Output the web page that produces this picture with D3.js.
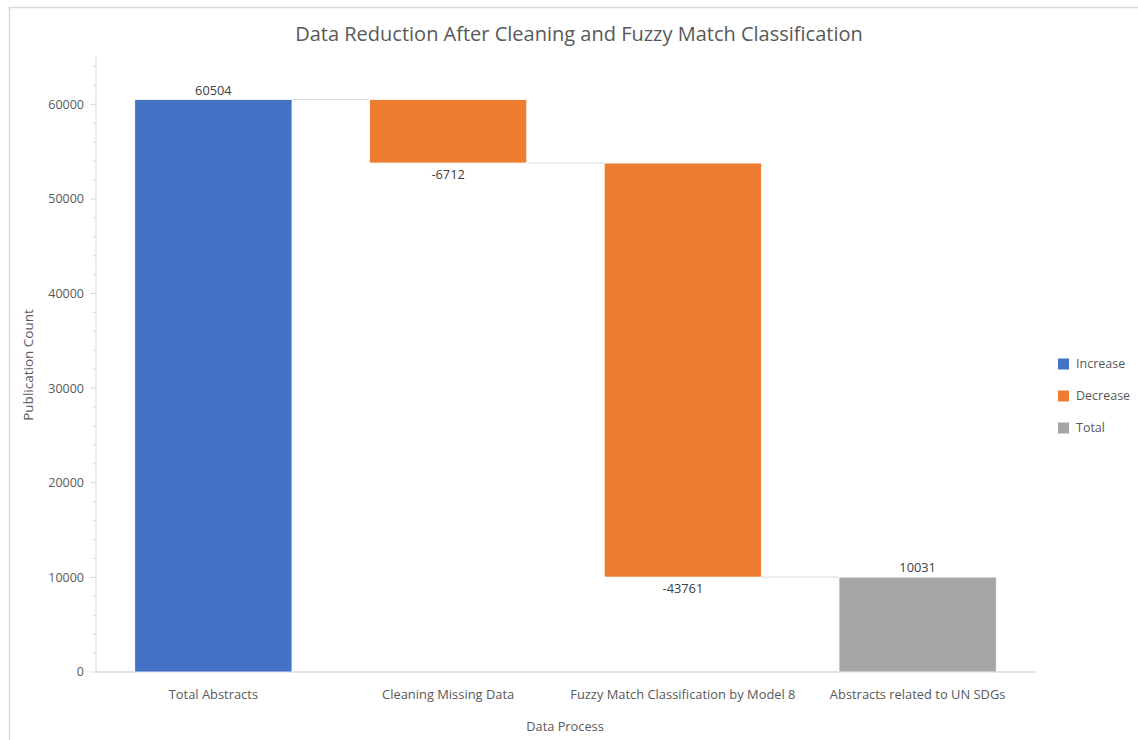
<!DOCTYPE html>
<html>
<head>
<meta charset="utf-8">
<script src="https://cdn.jsdelivr.net/npm/d3@7"></script>
<style>
  html, body { margin: 0; padding: 0; background: #fff; }
  svg { display: block; font-family: "Open Sans", "Noto Sans", sans-serif; }
</style>
</head>
<body>
<svg id="chart" width="1138" height="740"></svg>
<script>
// Waterfall steps of the abstract-filtering pipeline
const categories = [
  "Total Abstracts",
  "Cleaning Missing Data",
  "Fuzzy Match Classification by Model 8",
  "Abstracts related to UN SDGs"
];
const stepValues = [60504, -6712, -43761, 10031];
const stepKinds = ["Increase", "Decrease", "Decrease", "Total"];
const legendLabels = ["Increase", "Decrease", "Total"];
const yTicks = [0, 10000, 20000, 30000, 40000, 50000, 60000];

const colors = { Increase: "#4472C4", Decrease: "#ED7D31", Total: "#A5A5A5" };
const textColor = "#595959";

const svg = d3.select("#chart");

// outer chart frame
svg.append("rect")
  .attr("x", 9.5).attr("y", 7.5)
  .attr("width", 1200).attr("height", 800)
  .attr("fill", "none").attr("stroke", "#d9d9d9").attr("stroke-width", 1.5);

const plot = { left: 96, right: 1035, top: 57, bottom: 672 };

const x = d3.scaleBand()
  .domain(categories)
  .range([plot.left, plot.right])
  .paddingInner(0.33)
  .paddingOuter(0.165);

const y = d3.scaleLinear()
  .domain([0, 65000])
  .range([plot.bottom, plot.top]);

// compute running start/end for each step
let running = 0;
const steps = categories.map((c, i) => {
  const v = stepValues[i];
  const kind = stepKinds[i];
  let start, end;
  if (kind === "Total") { start = 0; end = v; running = v; }
  else { start = running; end = running + v; running = end; }
  return { cat: c, value: v, kind, start, end };
});

// y axis line with major and minor ticks
const yAxis = svg.append("g");
yAxis.append("line")
  .attr("x1", plot.left).attr("x2", plot.left)
  .attr("y1", plot.top).attr("y2", plot.bottom)
  .attr("stroke", "#d9d9d9").attr("stroke-width", 1);
const minor = d3.range(0, 65001, 2000);
yAxis.selectAll("line.minor").data(minor).join("line")
  .attr("class", "minor")
  .attr("x1", d => yTicks.includes(d) ? plot.left - 6 : plot.left - 3)
  .attr("x2", plot.left)
  .attr("y1", d => y(d)).attr("y2", d => y(d))
  .attr("stroke", "#d9d9d9").attr("stroke-width", 1);
yAxis.selectAll("text").data(yTicks).join("text")
  .attr("x", plot.left - 12)
  .attr("y", d => y(d))
  .attr("dy", "0.35em")
  .attr("text-anchor", "end")
  .attr("fill", textColor)
  .attr("font-size", 12.5)
  .text(d => d);

// x axis baseline
svg.append("line")
  .attr("x1", plot.left).attr("x2", plot.right)
  .attr("y1", y(0)).attr("y2", y(0))
  .attr("stroke", "#d9d9d9").attr("stroke-width", 1.5);

svg.append("g").selectAll("text").data(categories).join("text")
  .attr("x", d => x(d) + x.bandwidth() / 2)
  .attr("y", 699)
  .attr("text-anchor", "middle")
  .attr("fill", textColor)
  .attr("font-size", 12.9)
  .text(d => d);

// connectors between consecutive bars
svg.append("g").selectAll("line").data(steps.slice(0, -1)).join("line")
  .attr("x1", (d, i) => x(d.cat) + x.bandwidth())
  .attr("x2", (d, i) => x(steps[i + 1].cat))
  .attr("y1", d => y(d.end)).attr("y2", d => y(d.end))
  .attr("stroke", "#d9d9d9").attr("stroke-width", 1);

// bars
svg.append("g").selectAll("rect").data(steps).join("rect")
  .attr("x", d => x(d.cat))
  .attr("width", x.bandwidth())
  .attr("y", d => y(Math.max(d.start, d.end)))
  .attr("height", d => Math.abs(y(d.start) - y(d.end)))
  .attr("fill", d => colors[d.kind])
  .attr("stroke", "#ffffff").attr("stroke-width", 0.8);

// value labels
svg.append("g").selectAll("text").data(steps).join("text")
  .attr("x", d => x(d.cat) + x.bandwidth() / 2)
  .attr("y", d => d.value >= 0 ? y(Math.max(d.start, d.end)) - 5 : y(d.end) + 16)
  .attr("text-anchor", "middle")
  .attr("fill", "#404040")
  .attr("font-size", 12.8)
  .text(d => d.value);

// title
svg.append("text")
  .attr("x", 579).attr("y", 41)
  .attr("text-anchor", "middle")
  .attr("fill", textColor)
  .attr("font-size", 20)
  .text("Data Reduction After Cleaning and Fuzzy Match Classification");

// axis titles
svg.append("text")
  .attr("transform", "translate(33,365) rotate(-90)")
  .attr("text-anchor", "middle")
  .attr("fill", textColor)
  .attr("font-size", 13.5)
  .text("Publication Count");

svg.append("text")
  .attr("x", 565).attr("y", 731)
  .attr("text-anchor", "middle")
  .attr("fill", textColor)
  .attr("font-size", 12.8)
  .text("Data Process");

// legend
const legend = svg.append("g").selectAll("g").data(legendLabels).join("g")
  .attr("transform", (d, i) => `translate(1058, ${364 + i * 32})`);
legend.append("rect")
  .attr("x", 0).attr("y", -5.5)
  .attr("width", 11).attr("height", 11)
  .attr("fill", d => colors[d]);
legend.append("text")
  .attr("x", 18).attr("y", 0)
  .attr("dy", "0.35em")
  .attr("fill", textColor)
  .attr("font-size", 12.5)
  .text(d => d);
</script>
</body>
</html>
